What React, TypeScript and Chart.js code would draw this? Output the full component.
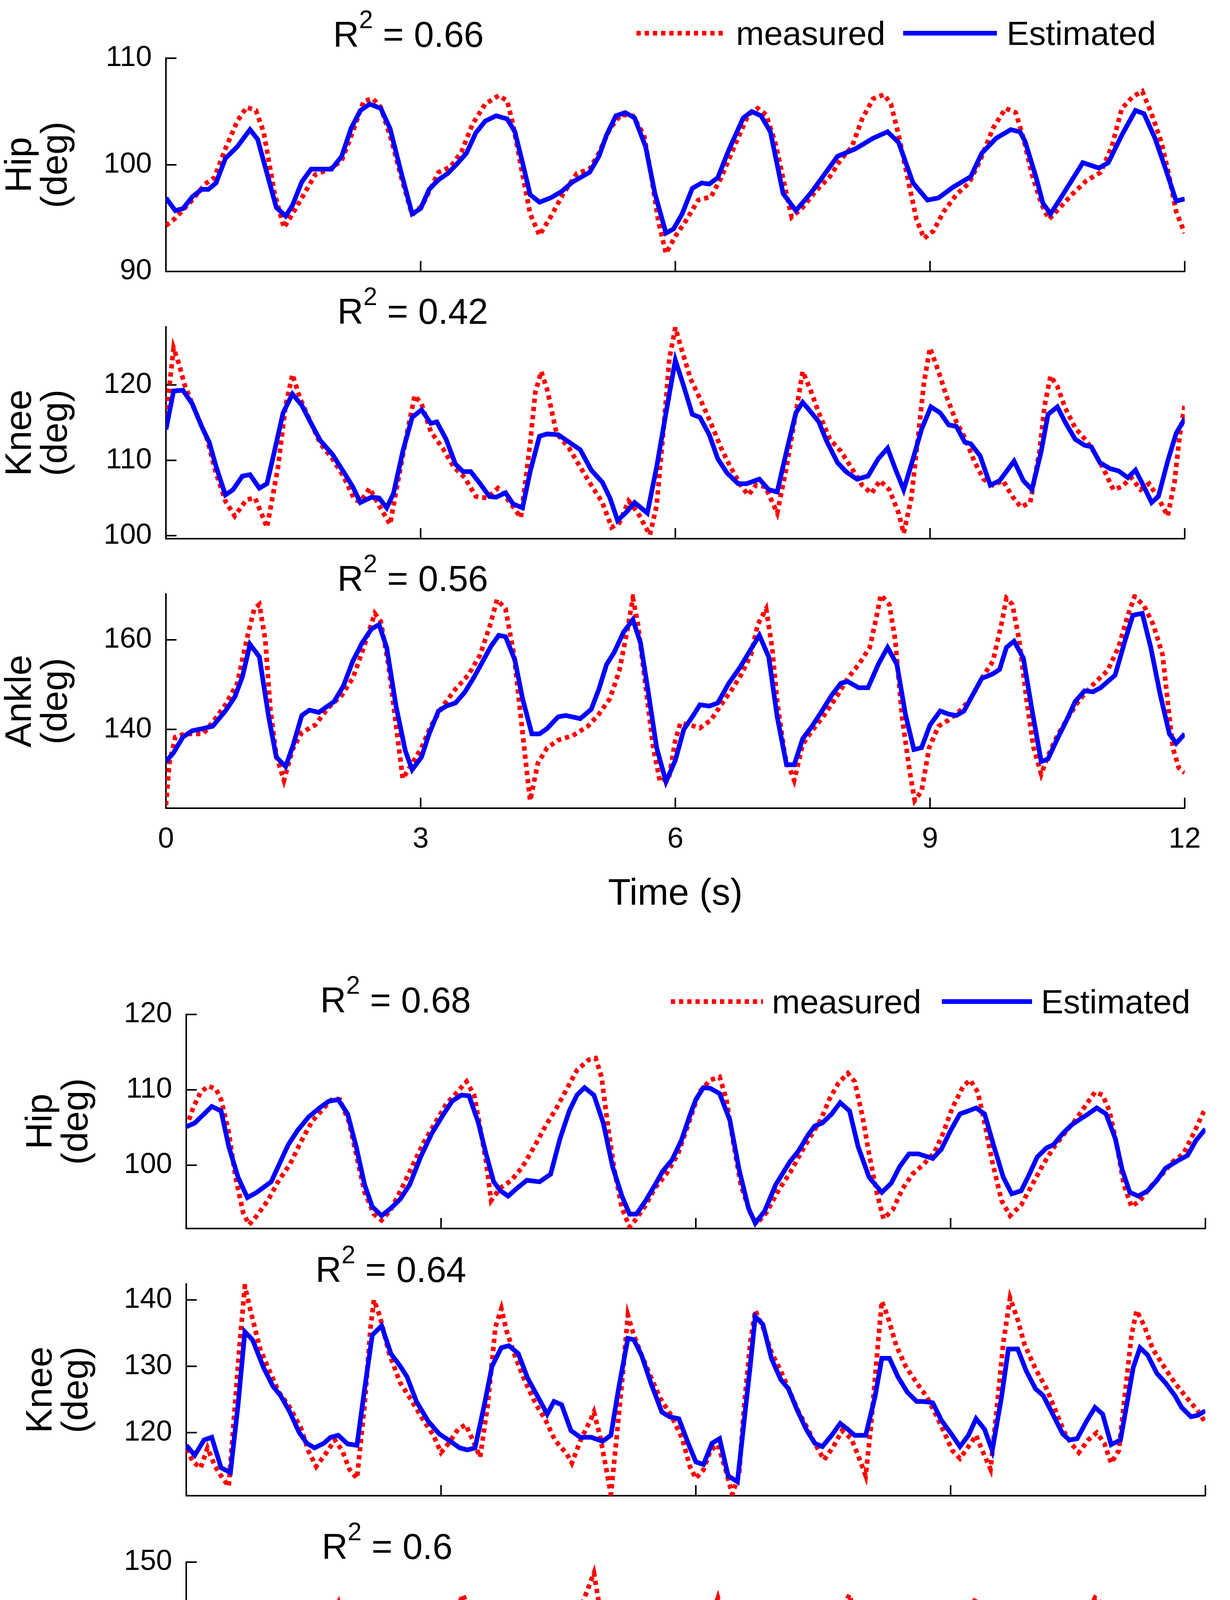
import { useEffect, useRef } from 'react';
import { Chart, registerables } from 'chart.js';

Chart.register(...registerables);

const FONT = "'Liberation Sans', Arial, Helvetica, sans-serif";

// ---- data: [time (s), angle (deg)] ----

// trial 1 (upper figure)
const trial1HipMeasured: [number, number][] = [
  [0, 94.3], [0.11, 95.0], [0.31, 96.7], [0.46, 98.2], [0.57, 98.8], [0.7, 101.5], [0.84, 104.1], [0.95, 105.4], [1.06, 105.1], [1.15, 103.1],
  [1.28, 97.3], [1.39, 94.1], [1.49, 95.4], [1.63, 97.3], [1.76, 99.1], [1.93, 99.6], [2.07, 100.4], [2.2, 103.1], [2.33, 106.0], [2.44, 106.2],
  [2.53, 105.4], [2.66, 102.2], [2.77, 98.9], [2.9, 95.3], [3.02, 96.2], [3.1, 97.5], [3.21, 99.3], [3.35, 99.8], [3.48, 101.2], [3.61, 103.8],
  [3.76, 105.7], [3.92, 106.5], [4.02, 106.0], [4.09, 103.7], [4.2, 99.1], [4.29, 95.4], [4.4, 93.4], [4.53, 95.1], [4.68, 97.3], [4.84, 99.2],
  [4.99, 99.6], [5.1, 101.1], [5.23, 103.4], [5.36, 104.7], [5.5, 104.6], [5.63, 102.8], [5.72, 98.8], [5.8, 94.7], [5.89, 91.7], [6.0, 93.3],
  [6.12, 94.7], [6.27, 96.7], [6.42, 97.0], [6.54, 98.8], [6.71, 102.0], [6.86, 104.7], [6.97, 105.3], [7.07, 104.7], [7.18, 102.0], [7.29, 98.0],
  [7.37, 95.1], [7.5, 96.0], [7.65, 97.5], [7.82, 98.9], [7.95, 100.5], [8.08, 101.7], [8.2, 104.3], [8.33, 106.2], [8.46, 106.6], [8.54, 105.7],
  [8.63, 102.8], [8.76, 97.9], [8.84, 94.9], [8.93, 93.1], [9.04, 93.8], [9.16, 95.6], [9.31, 97.2], [9.46, 98.3], [9.59, 100.4], [9.74, 103.4],
  [9.89, 105.3], [10.01, 104.9], [10.1, 102.5], [10.2, 99.1], [10.31, 96.4], [10.4, 94.9], [10.52, 95.9], [10.67, 97.2], [10.84, 98.5], [11.01, 99.3],
  [11.14, 101.7], [11.26, 105.3], [11.39, 106.4], [11.5, 106.9], [11.6, 105.0], [11.73, 102.0], [11.82, 98.8], [11.9, 95.6], [12.0, 93.6],
];
const trial1HipEstimated: [number, number][] = [
  [0, 96.9], [0.11, 95.7], [0.2, 95.9], [0.31, 97.0], [0.42, 97.7], [0.5, 97.7], [0.59, 98.3], [0.7, 100.6], [0.84, 101.7], [0.99, 103.3],
  [1.08, 102.4], [1.19, 99.2], [1.3, 96.0], [1.41, 95.2], [1.49, 96.2], [1.6, 98.4], [1.71, 99.6], [1.95, 99.6], [2.07, 100.8], [2.18, 103.4],
  [2.29, 105.1], [2.4, 105.7], [2.53, 105.3], [2.64, 103.4], [2.77, 99.3], [2.9, 95.4], [3.0, 95.9], [3.1, 97.7], [3.21, 98.6], [3.32, 99.2],
  [3.43, 100.1], [3.54, 101.1], [3.65, 103.0], [3.76, 104.1], [3.89, 104.6], [4.02, 104.3], [4.11, 103.1], [4.2, 100.2], [4.29, 97.2], [4.4, 96.5],
  [4.53, 96.9], [4.66, 97.5], [4.79, 98.4], [4.99, 99.3], [5.1, 100.8], [5.19, 102.8], [5.3, 104.6], [5.41, 104.9], [5.52, 104.4], [5.65, 101.7],
  [5.76, 97.3], [5.89, 93.6], [5.98, 94.0], [6.08, 95.4], [6.2, 97.8], [6.31, 98.3], [6.4, 98.2], [6.5, 98.8], [6.63, 101.4], [6.8, 104.4],
  [6.9, 105.0], [7.01, 104.6], [7.12, 103.1], [7.27, 97.3], [7.42, 95.7], [7.61, 97.5], [7.91, 100.8], [8.12, 101.5], [8.33, 102.5], [8.5, 103.1],
  [8.63, 102.1], [8.8, 98.3], [8.97, 96.7], [9.1, 96.9], [9.27, 97.9], [9.48, 98.9], [9.61, 101.1], [9.78, 102.5], [9.95, 103.3], [10.06, 103.1],
  [10.12, 102.2], [10.25, 98.8], [10.33, 96.4], [10.42, 95.4], [10.54, 96.9], [10.8, 100.2], [10.99, 99.7], [11.1, 100.2], [11.26, 102.8], [11.42, 105.1],
  [11.52, 104.8], [11.65, 102.5], [11.78, 99.5], [11.9, 96.6], [12.0, 96.8],
];
const trial1KneeMeasured: [number, number][] = [
  [0, 115.7], [0.09, 124.9], [0.15, 122.9], [0.22, 120.0], [0.33, 116.9], [0.48, 113.0], [0.59, 108.3], [0.7, 104.6], [0.81, 102.6], [0.95, 104.8],
  [1.05, 105.0], [1.19, 101.1], [1.32, 109.1], [1.41, 117.3], [1.49, 121.4], [1.58, 118.2], [1.71, 114.9], [1.82, 112.2], [1.96, 110.2], [2.09, 107.9],
  [2.22, 104.8], [2.29, 104.5], [2.4, 106.3], [2.51, 104.0], [2.64, 101.5], [2.73, 107.1], [2.84, 113.6], [2.93, 118.6], [3.01, 117.5], [3.12, 113.8],
  [3.26, 111.6], [3.39, 109.1], [3.52, 107.7], [3.65, 105.2], [3.78, 105.0], [3.91, 106.3], [4.04, 104.6], [4.18, 102.4], [4.29, 112.2], [4.35, 119.0],
  [4.42, 121.8], [4.49, 119.4], [4.6, 113.6], [4.75, 111.6], [4.88, 109.1], [5.01, 106.7], [5.14, 104.4], [5.25, 101.1], [5.34, 101.7], [5.45, 104.6],
  [5.56, 103.0], [5.7, 100.1], [5.78, 104.0], [5.87, 115.3], [5.93, 123.5], [6.0, 127.6], [6.08, 124.5], [6.18, 120.8], [6.29, 118.2], [6.42, 114.9],
  [6.54, 111.6], [6.65, 109.1], [6.78, 106.5], [6.86, 105.4], [6.95, 106.7], [7.06, 106.5], [7.2, 103.0], [7.31, 109.1], [7.42, 116.3], [7.5, 121.8],
  [7.59, 119.4], [7.69, 116.3], [7.82, 112.8], [7.95, 111.2], [8.07, 109.1], [8.2, 106.7], [8.31, 105.6], [8.41, 107.3], [8.52, 106.1], [8.63, 103.0],
  [8.69, 100.3], [8.78, 105.0], [8.86, 113.2], [8.93, 120.4], [9.0, 124.9], [9.1, 121.8], [9.2, 118.3], [9.31, 115.1], [9.41, 113.0], [9.52, 109.9],
  [9.63, 107.5], [9.74, 106.7], [9.86, 107.3], [9.97, 105.2], [10.07, 103.8], [10.18, 104.4], [10.29, 111.2], [10.35, 117.3], [10.42, 121.2], [10.5, 119.8],
  [10.59, 117.0], [10.71, 114.3], [10.84, 112.6], [10.95, 110.8], [11.05, 108.7], [11.16, 106.1], [11.26, 106.5], [11.37, 107.7], [11.48, 106.1], [11.58, 106.9],
  [11.69, 105.0], [11.8, 102.6], [11.88, 107.1], [11.94, 113.2], [12.0, 117.3],
];
const trial1KneeEstimated: [number, number][] = [
  [0, 114.1], [0.09, 119.2], [0.2, 119.3], [0.31, 117.5], [0.42, 114.5], [0.51, 112.4], [0.59, 109.2], [0.7, 105.4], [0.79, 106.1], [0.9, 107.9],
  [0.99, 108.1], [1.1, 106.3], [1.19, 106.9], [1.27, 110.8], [1.38, 116.3], [1.49, 118.8], [1.6, 117.3], [1.71, 114.9], [1.82, 112.6], [1.96, 110.8],
  [2.09, 108.5], [2.2, 106.5], [2.29, 104.4], [2.42, 105.1], [2.51, 105.0], [2.6, 103.7], [2.68, 105.6], [2.79, 111.2], [2.9, 115.7], [3.01, 116.7],
  [3.12, 114.9], [3.19, 115.1], [3.3, 112.8], [3.41, 109.5], [3.5, 108.5], [3.59, 108.5], [3.7, 106.9], [3.81, 105.2], [3.89, 105.1], [4.0, 105.7],
  [4.09, 104.2], [4.2, 103.7], [4.29, 108.5], [4.4, 113.2], [4.49, 113.5], [4.62, 113.4], [4.75, 112.4], [4.88, 111.4], [5.01, 108.7], [5.14, 107.1],
  [5.23, 105.0], [5.32, 102.0], [5.43, 103.2], [5.52, 104.4], [5.67, 103.0], [5.78, 109.1], [5.89, 116.3], [6.0, 123.3], [6.1, 119.8], [6.2, 116.1],
  [6.29, 115.7], [6.4, 113.4], [6.5, 110.2], [6.61, 108.3], [6.74, 106.9], [6.84, 106.9], [6.99, 107.5], [7.1, 106.1], [7.2, 105.8], [7.31, 111.2],
  [7.42, 116.3], [7.5, 117.7], [7.59, 116.5], [7.69, 115.1], [7.78, 112.6], [7.91, 109.7], [8.01, 108.5], [8.14, 107.5], [8.27, 107.9], [8.39, 110.2],
  [8.5, 111.6], [8.59, 108.9], [8.69, 106.1], [8.8, 110.2], [8.9, 114.1], [9.01, 117.1], [9.12, 116.3], [9.22, 114.7], [9.31, 114.5], [9.41, 112.4],
  [9.48, 112.2], [9.59, 110.6], [9.71, 106.7], [9.82, 107.3], [9.99, 109.9], [10.1, 107.3], [10.2, 106.1], [10.31, 111.2], [10.39, 116.1], [10.5, 117.1],
  [10.6, 114.9], [10.71, 112.8], [10.82, 112.0], [10.9, 111.8], [11.0, 109.7], [11.12, 108.9], [11.22, 108.6], [11.33, 107.7], [11.42, 108.7], [11.52, 106.5],
  [11.61, 104.4], [11.69, 105.2], [11.8, 109.9], [11.9, 113.6], [12.0, 115.5],
];
const trial1AnkleMeasured: [number, number][] = [
  [0, 123.1], [0.04, 132.4], [0.11, 138.3], [0.22, 139.0], [0.44, 139.0], [0.57, 142.1], [0.7, 145.5], [0.84, 150.3], [0.95, 160.0], [1.04, 166.9],
  [1.1, 167.9], [1.17, 160.0], [1.23, 144.5], [1.3, 134.1], [1.39, 128.6], [1.49, 135.5], [1.6, 139.3], [1.76, 141.0], [1.91, 144.8], [2.07, 147.6],
  [2.2, 151.4], [2.33, 158.3], [2.46, 165.9], [2.53, 164.1], [2.62, 154.5], [2.71, 141.0], [2.79, 129.0], [2.9, 132.4], [3.01, 135.9], [3.12, 140.7],
  [3.26, 145.2], [3.41, 149.0], [3.56, 152.1], [3.7, 156.6], [3.82, 163.4], [3.9, 169.0], [4.0, 166.9], [4.1, 156.6], [4.18, 142.8], [4.25, 130.7],
  [4.29, 124.1], [4.38, 132.4], [4.49, 135.9], [4.62, 137.6], [4.79, 138.6], [4.97, 140.7], [5.1, 143.4], [5.23, 146.9], [5.34, 153.1], [5.43, 161.7],
  [5.5, 169.3], [5.56, 163.4], [5.65, 149.7], [5.74, 135.9], [5.82, 128.3], [5.93, 129.7], [6.0, 137.6], [6.06, 141.4], [6.17, 141.0], [6.29, 140.3],
  [6.42, 142.1], [6.54, 145.5], [6.67, 149.0], [6.78, 152.4], [6.89, 156.6], [6.97, 163.4], [7.07, 166.9], [7.14, 158.3], [7.2, 146.2], [7.29, 134.1],
  [7.4, 128.6], [7.5, 136.6], [7.61, 139.7], [7.74, 142.8], [7.91, 147.6], [8.03, 151.4], [8.16, 154.5], [8.29, 158.3], [8.37, 165.2], [8.42, 170.0],
  [8.52, 167.9], [8.59, 160.0], [8.67, 142.8], [8.76, 130.7], [8.82, 124.1], [8.9, 126.2], [8.99, 135.9], [9.1, 140.7], [9.22, 142.1], [9.35, 144.1],
  [9.48, 146.9], [9.61, 151.4], [9.74, 155.2], [9.84, 163.4], [9.9, 169.3], [9.97, 167.9], [10.05, 160.0], [10.14, 146.2], [10.22, 135.9], [10.31, 130.0],
  [10.39, 134.1], [10.5, 138.6], [10.63, 142.8], [10.76, 146.6], [10.92, 150.0], [11.09, 153.1], [11.22, 158.3], [11.33, 165.5], [11.41, 169.7], [11.52, 167.6],
  [11.63, 163.4], [11.74, 156.6], [11.8, 146.2], [11.86, 135.9], [11.93, 131.4], [12.0, 130.3],
];
const trial1AnkleEstimated: [number, number][] = [
  [0, 132.8], [0.09, 134.8], [0.2, 138.3], [0.31, 139.7], [0.44, 140.2], [0.55, 140.7], [0.7, 144.1], [0.81, 147.2], [0.9, 151.7], [0.99, 159.0],
  [1.1, 156.2], [1.21, 142.8], [1.3, 133.8], [1.41, 131.7], [1.5, 136.6], [1.6, 143.1], [1.69, 144.3], [1.8, 143.8], [1.98, 146.2], [2.09, 149.7],
  [2.2, 155.2], [2.31, 159.3], [2.42, 162.4], [2.51, 163.4], [2.6, 158.3], [2.71, 145.2], [2.82, 135.2], [2.9, 131.0], [3.01, 133.8], [3.1, 139.0],
  [3.21, 144.1], [3.3, 145.2], [3.41, 145.9], [3.52, 148.3], [3.63, 151.7], [3.74, 155.5], [3.83, 158.6], [3.92, 161.0], [4.0, 160.7], [4.11, 155.5],
  [4.2, 146.9], [4.31, 139.0], [4.4, 139.0], [4.49, 140.2], [4.62, 142.8], [4.71, 143.1], [4.88, 142.4], [5.01, 144.5], [5.1, 149.0], [5.19, 154.5],
  [5.28, 157.2], [5.39, 161.7], [5.5, 164.5], [5.59, 159.3], [5.67, 149.7], [5.78, 135.9], [5.89, 128.3], [6.0, 133.1], [6.1, 140.0], [6.2, 142.8],
  [6.29, 145.5], [6.4, 145.2], [6.5, 145.9], [6.63, 150.3], [6.76, 153.8], [6.89, 157.9], [6.99, 161.0], [7.1, 156.2], [7.2, 142.8], [7.31, 132.1],
  [7.4, 132.1], [7.5, 137.9], [7.61, 140.7], [7.74, 144.5], [7.84, 147.6], [7.95, 150.3], [8.03, 150.7], [8.16, 149.3], [8.27, 149.3], [8.39, 154.5],
  [8.5, 158.3], [8.61, 154.5], [8.71, 143.4], [8.81, 135.5], [8.9, 135.9], [9.0, 141.0], [9.12, 144.1], [9.22, 143.4], [9.31, 143.1], [9.4, 144.1],
  [9.5, 147.6], [9.61, 151.4], [9.74, 152.4], [9.82, 153.4], [9.9, 158.3], [9.99, 159.7], [10.1, 155.9], [10.2, 144.5], [10.31, 132.8], [10.39, 133.4],
  [10.5, 137.9], [10.6, 141.7], [10.71, 146.2], [10.82, 148.6], [10.92, 148.4], [11.01, 149.3], [11.18, 152.1], [11.3, 160.0], [11.39, 165.5], [11.5, 165.9],
  [11.6, 158.3], [11.71, 147.9], [11.82, 139.0], [11.9, 136.9], [12.0, 139.0],
];

// trial 2 (lower figure)
const trial2HipMeasured: [number, number][] = [
  [0, 105.0], [0.08, 107.6], [0.17, 109.7], [0.26, 110.5], [0.35, 110.1], [0.41, 108.7], [0.5, 104.4], [0.58, 98.4], [0.67, 93.7], [0.74, 92.1],
  [0.83, 93.3], [0.96, 95.3], [1.09, 98.0], [1.22, 100.1], [1.35, 103.1], [1.48, 105.8], [1.62, 107.6], [1.73, 108.9], [1.81, 108.7], [1.92, 105.6],
  [2.0, 101.5], [2.1, 96.4], [2.21, 93.5], [2.3, 92.7], [2.41, 94.1], [2.54, 97.0], [2.67, 100.1], [2.8, 103.1], [2.93, 105.6], [3.06, 108.1],
  [3.19, 109.7], [3.3, 111.1], [3.39, 109.3], [3.45, 105.6], [3.53, 100.5], [3.59, 95.3], [3.7, 97.0], [3.83, 98.0], [3.96, 99.8], [4.1, 102.5],
  [4.23, 105.2], [4.36, 107.6], [4.47, 109.9], [4.6, 112.6], [4.74, 114.0], [4.82, 114.2], [4.89, 111.7], [4.96, 105.6], [5.04, 99.4], [5.13, 94.3],
  [5.22, 91.8], [5.3, 92.9], [5.41, 94.7], [5.52, 97.0], [5.65, 98.8], [5.79, 101.5], [5.91, 105.4], [6.04, 109.7], [6.17, 111.3], [6.28, 111.7],
  [6.36, 108.7], [6.45, 102.5], [6.53, 97.4], [6.64, 93.7], [6.72, 92.3], [6.83, 93.7], [6.98, 96.8], [7.11, 99.0], [7.23, 101.5], [7.36, 104.0],
  [7.47, 106.0], [7.57, 108.7], [7.68, 110.9], [7.79, 112.2], [7.87, 111.1], [7.96, 106.6], [8.04, 101.5], [8.13, 96.4], [8.21, 92.9], [8.32, 94.1],
  [8.43, 96.8], [8.55, 98.8], [8.68, 100.1], [8.81, 101.7], [8.91, 104.2], [9.02, 107.6], [9.15, 110.5], [9.23, 111.3], [9.32, 109.7], [9.4, 105.6],
  [9.49, 100.5], [9.6, 95.3], [9.7, 93.3], [9.83, 94.7], [9.96, 97.4], [10.09, 100.1], [10.21, 102.3], [10.34, 104.2], [10.47, 106.0], [10.6, 108.1],
  [10.7, 109.7], [10.79, 109.3], [10.87, 107.2], [10.96, 102.5], [11.04, 97.4], [11.13, 94.5], [11.23, 95.3], [11.36, 97.2], [11.49, 98.8], [11.62, 100.5],
  [11.74, 101.5], [11.87, 104.4], [12.0, 107.6],
];
const trial2HipEstimated: [number, number][] = [
  [0, 105.1], [0.1, 105.6], [0.21, 106.8], [0.3, 107.8], [0.41, 107.2], [0.5, 102.5], [0.61, 98.4], [0.72, 95.7], [0.83, 96.4], [1.0, 97.8],
  [1.2, 102.7], [1.31, 104.6], [1.44, 106.4], [1.57, 107.6], [1.68, 108.5], [1.79, 108.7], [1.9, 106.8], [2.0, 102.5], [2.1, 97.4], [2.19, 94.5],
  [2.3, 93.3], [2.41, 94.3], [2.52, 95.5], [2.63, 97.4], [2.76, 101.1], [2.89, 104.2], [3.02, 106.6], [3.13, 108.5], [3.24, 109.3], [3.33, 109.2],
  [3.44, 105.6], [3.53, 101.5], [3.62, 97.8], [3.7, 96.6], [3.79, 95.9], [3.9, 97.0], [4.01, 98.0], [4.16, 97.8], [4.29, 98.8], [4.4, 103.5],
  [4.51, 107.2], [4.6, 109.3], [4.69, 110.3], [4.8, 109.3], [4.91, 105.6], [5.02, 99.8], [5.13, 95.9], [5.22, 93.5], [5.3, 93.5], [5.41, 95.3],
  [5.52, 97.4], [5.61, 99.2], [5.72, 100.7], [5.83, 103.3], [5.93, 106.6], [6.0, 108.7], [6.09, 110.3], [6.17, 110.2], [6.28, 109.5], [6.4, 106.0],
  [6.51, 99.4], [6.62, 94.3], [6.7, 92.3], [6.81, 93.9], [6.94, 97.4], [7.11, 100.5], [7.21, 101.9], [7.32, 104.0], [7.4, 105.2], [7.49, 105.6],
  [7.6, 106.8], [7.7, 108.3], [7.81, 107.2], [7.91, 102.5], [8.04, 98.4], [8.19, 96.4], [8.3, 97.6], [8.4, 99.8], [8.51, 101.5], [8.62, 101.5],
  [8.79, 100.9], [8.89, 102.1], [9.0, 104.6], [9.11, 106.8], [9.21, 107.2], [9.3, 107.6], [9.4, 106.8], [9.51, 102.5], [9.62, 98.4], [9.72, 96.2],
  [9.83, 96.6], [9.91, 98.4], [10.02, 101.1], [10.13, 102.3], [10.21, 102.7], [10.32, 104.2], [10.43, 105.4], [10.51, 106.0], [10.62, 106.8], [10.72, 107.6],
  [10.83, 106.8], [10.94, 103.5], [11.02, 99.4], [11.11, 96.4], [11.21, 95.9], [11.32, 96.6], [11.43, 98.0], [11.53, 99.6], [11.66, 100.5], [11.79, 101.3],
  [11.89, 103.3], [12.0, 104.8],
];
const trial2KneeMeasured: [number, number][] = [
  [0, 117.5], [0.08, 115.6], [0.17, 114.7], [0.25, 117.7], [0.34, 114.9], [0.41, 113.5], [0.5, 111.9], [0.56, 121.9], [0.63, 133.5], [0.69, 142.1],
  [0.76, 138.2], [0.87, 132.6], [0.98, 129.3], [1.09, 126.1], [1.22, 123.8], [1.35, 120.7], [1.44, 117.2], [1.53, 114.9], [1.64, 116.8], [1.75, 118.9],
  [1.84, 117.2], [1.92, 114.5], [2.01, 113.1], [2.1, 124.2], [2.17, 135.9], [2.21, 140.0], [2.28, 137.5], [2.39, 131.9], [2.52, 127.5], [2.65, 124.9],
  [2.78, 122.1], [2.91, 119.6], [3.0, 117.0], [3.09, 118.4], [3.2, 120.5], [3.29, 121.2], [3.38, 118.7], [3.46, 116.3], [3.55, 124.2], [3.64, 135.9],
  [3.71, 138.7], [3.77, 135.4], [3.88, 131.2], [3.99, 127.7], [4.12, 124.2], [4.23, 121.9], [4.34, 118.9], [4.48, 116.8], [4.54, 115.4], [4.65, 119.1],
  [4.76, 121.9], [4.8, 123.1], [4.87, 119.6], [4.94, 114.9], [5.0, 110.7], [5.07, 119.6], [5.14, 128.9], [5.2, 137.7], [5.27, 134.7], [5.36, 131.7],
  [5.47, 128.4], [5.58, 125.2], [5.71, 122.6], [5.84, 119.1], [5.93, 114.9], [6.0, 113.1], [6.09, 114.4], [6.17, 117.3], [6.26, 118.2], [6.34, 114.9],
  [6.43, 110.7], [6.51, 113.8], [6.57, 124.2], [6.64, 133.5], [6.7, 138.4], [6.79, 135.9], [6.89, 132.1], [7.0, 129.3], [7.11, 126.1], [7.21, 123.1],
  [7.32, 120.5], [7.4, 118.4], [7.51, 115.9], [7.62, 117.9], [7.72, 120.3], [7.83, 119.1], [7.91, 116.6], [8.0, 113.5], [8.06, 120.7], [8.13, 131.2],
  [8.19, 139.8], [8.26, 137.5], [8.36, 133.1], [8.47, 130.0], [8.6, 127.5], [8.72, 125.4], [8.83, 122.6], [8.94, 119.6], [9.02, 117.3], [9.11, 116.1],
  [9.21, 117.9], [9.3, 119.6], [9.39, 116.8], [9.47, 114.5], [9.53, 121.9], [9.62, 133.5], [9.7, 140.3], [9.79, 137.0], [9.87, 133.3], [10.0, 129.6],
  [10.13, 126.6], [10.23, 123.5], [10.34, 120.0], [10.43, 118.2], [10.51, 117.0], [10.62, 118.9], [10.72, 120.0], [10.81, 118.4], [10.89, 115.4], [10.98, 117.3],
  [11.06, 126.6], [11.13, 134.7], [11.19, 138.4], [11.28, 136.1], [11.38, 132.6], [11.51, 130.0], [11.64, 127.5], [11.74, 125.9], [11.85, 124.2], [11.94, 122.8],
  [12.0, 121.4],
];
const trial2KneeEstimated: [number, number][] = [
  [0, 118.1], [0.1, 116.6], [0.21, 118.9], [0.3, 119.3], [0.41, 114.7], [0.52, 114.0], [0.61, 124.2], [0.69, 135.2], [0.78, 134.0], [0.91, 129.8],
  [1.02, 127.0], [1.11, 125.6], [1.22, 123.1], [1.33, 120.0], [1.42, 118.4], [1.51, 117.7], [1.62, 118.4], [1.7, 119.3], [1.79, 119.6], [1.9, 118.3],
  [2.01, 118.1], [2.1, 126.6], [2.19, 134.7], [2.3, 136.1], [2.41, 131.9], [2.52, 130.0], [2.6, 128.4], [2.71, 124.7], [2.85, 121.7], [2.98, 119.8],
  [3.11, 118.7], [3.22, 117.7], [3.31, 117.4], [3.4, 117.7], [3.51, 124.2], [3.6, 130.0], [3.71, 132.8], [3.8, 133.1], [3.91, 131.9], [4.02, 128.2],
  [4.14, 125.4], [4.25, 122.8], [4.33, 124.7], [4.42, 124.2], [4.53, 120.3], [4.64, 119.3], [4.77, 119.3], [4.9, 118.7], [5.0, 119.6], [5.09, 126.6],
  [5.2, 134.2], [5.27, 134.0], [5.36, 131.7], [5.47, 127.5], [5.6, 123.1], [5.69, 122.4], [5.8, 122.1], [5.91, 118.4], [6.0, 115.6], [6.09, 115.2],
  [6.19, 118.4], [6.28, 119.1], [6.38, 113.5], [6.49, 112.6], [6.57, 121.9], [6.64, 130.0], [6.7, 137.5], [6.79, 136.3], [6.89, 131.2], [7.0, 128.0],
  [7.09, 126.6], [7.19, 123.5], [7.3, 120.5], [7.4, 118.4], [7.49, 117.9], [7.6, 119.6], [7.7, 121.4], [7.79, 120.5], [7.87, 119.6], [8.0, 119.6],
  [8.11, 125.4], [8.19, 131.2], [8.28, 131.2], [8.38, 128.4], [8.49, 126.1], [8.6, 124.7], [8.68, 124.7], [8.79, 124.5], [8.89, 121.9], [9.02, 119.6],
  [9.11, 117.9], [9.21, 119.6], [9.3, 122.1], [9.4, 120.5], [9.49, 117.3], [9.6, 125.4], [9.68, 132.6], [9.79, 132.6], [9.89, 129.3], [10.0, 126.6],
  [10.09, 125.6], [10.21, 122.6], [10.32, 119.8], [10.4, 118.9], [10.49, 119.1], [10.6, 121.7], [10.7, 123.8], [10.79, 122.8], [10.89, 118.2], [11.0, 118.9],
  [11.09, 125.4], [11.15, 129.8], [11.23, 132.8], [11.32, 131.7], [11.43, 128.9], [11.53, 127.5], [11.64, 125.6], [11.72, 123.8], [11.83, 122.4], [11.91, 122.6],
  [12.0, 123.3],
];
const trial2AnkleMeasured: [number, number][] = [
  [0, 125.3], [0.1, 126.9], [0.19, 130.1], [0.3, 136.9], [0.36, 136.1], [0.43, 120.1], [0.5, 110.2], [0.58, 99.0], [0.65, 102.2], [0.72, 110.2],
  [0.83, 114.1], [0.96, 114.9], [1.09, 115.7], [1.22, 118.1], [1.33, 119.7], [1.44, 122.9], [1.55, 126.1], [1.66, 130.1], [1.75, 138.0], [1.79, 139.6],
  [1.86, 132.1], [1.92, 120.1], [2.01, 108.2], [2.1, 98.2], [2.17, 106.2], [2.23, 113.3], [2.34, 116.1], [2.5, 118.5], [2.65, 120.1], [2.8, 124.1],
  [2.93, 128.1], [3.06, 131.7], [3.17, 137.3], [3.26, 141.6], [3.33, 137.3], [3.39, 120.1], [3.46, 108.2], [3.55, 101.4], [3.64, 107.8], [3.75, 112.2],
  [3.88, 116.1], [4.03, 118.9], [4.18, 120.9], [4.36, 124.9], [4.49, 130.1], [4.6, 136.1], [4.71, 142.0], [4.8, 147.2], [4.87, 138.0], [4.93, 122.1],
  [5.0, 110.2], [5.06, 102.2], [5.11, 95.4], [5.17, 106.2], [5.28, 111.8], [5.41, 114.1], [5.54, 114.9], [5.68, 118.9], [5.83, 124.1], [5.99, 128.1],
  [6.11, 131.7], [6.19, 136.1], [6.26, 140.8], [6.32, 136.1], [6.38, 122.1], [6.45, 110.2], [6.53, 102.2], [6.6, 97.4], [6.68, 106.2], [6.77, 112.2],
  [6.89, 116.9], [7.02, 118.9], [7.15, 121.3], [7.3, 124.5], [7.43, 126.1], [7.55, 129.3], [7.66, 134.1], [7.74, 138.8], [7.81, 141.6], [7.87, 136.1],
  [7.94, 122.1], [8.02, 112.2], [8.09, 101.0], [8.15, 108.2], [8.23, 114.1], [8.36, 117.3], [8.51, 119.3], [8.66, 121.3], [8.81, 123.3], [8.94, 126.1],
  [9.04, 128.9], [9.15, 133.3], [9.23, 138.0], [9.3, 140.8], [9.36, 132.1], [9.45, 118.1], [9.53, 106.2], [9.6, 98.6], [9.68, 108.2], [9.79, 114.1],
  [9.91, 118.1], [10.06, 122.1], [10.21, 124.9], [10.34, 127.7], [10.47, 131.3], [10.6, 136.5], [10.7, 140.8], [10.79, 139.2], [10.85, 126.1], [10.94, 112.2],
  [11.02, 102.2], [11.11, 102.2], [11.19, 108.2], [11.32, 115.0], [11.45, 119.7], [11.57, 122.9], [11.7, 125.3], [11.83, 126.9], [12.0, 129.3],
];
const trial2AnkleEstimated: [number, number][] = [
  [0, 124.9], [0.1, 120.5], [0.21, 126.1], [0.3, 131.7], [0.41, 126.9], [0.5, 116.1], [0.58, 106.6], [0.69, 112.5], [0.8, 116.5], [0.89, 116.1],
  [0.98, 118.1], [1.09, 121.3], [1.2, 123.7], [1.29, 125.7], [1.4, 125.3], [1.48, 126.9], [1.57, 127.7], [1.68, 130.1], [1.79, 132.1], [1.9, 124.1],
  [2.01, 114.1], [2.1, 105.8], [2.19, 106.2], [2.3, 110.9], [2.41, 112.2], [2.52, 114.1], [2.6, 116.5], [2.71, 117.7], [2.8, 118.9], [2.89, 123.3],
  [3.02, 126.1], [3.11, 127.7], [3.22, 130.9], [3.31, 130.5], [3.42, 120.1], [3.5, 110.9], [3.61, 109.0], [3.73, 109.8], [3.81, 112.2], [3.9, 115.7],
  [3.99, 117.3], [4.1, 112.9], [4.21, 109.0], [4.29, 114.1], [4.4, 120.1], [4.51, 126.1], [4.6, 130.1], [4.69, 134.1], [4.8, 131.3], [4.89, 124.1],
  [4.98, 114.1], [5.09, 105.0], [5.17, 107.4], [5.28, 110.9], [5.39, 118.1], [5.48, 119.7], [5.57, 118.1], [5.68, 116.9], [5.79, 121.3], [5.88, 126.1],
  [5.99, 129.3], [6.1, 131.3], [6.2, 134.7], [6.3, 135.0], [6.38, 118.1], [6.49, 104.2], [6.6, 97.4], [6.7, 104.2], [6.81, 112.9], [6.91, 117.3],
  [7.02, 121.3], [7.15, 123.7], [7.28, 125.7], [7.36, 126.5], [7.49, 125.3], [7.6, 126.1], [7.68, 129.3], [7.79, 131.7], [7.89, 123.7], [8.0, 114.1],
  [8.11, 108.2], [8.21, 113.3], [8.32, 117.7], [8.4, 118.9], [8.51, 122.5], [8.62, 122.5], [8.7, 120.5], [8.81, 121.3], [8.91, 122.1], [9.02, 124.5],
  [9.11, 124.9], [9.21, 124.5], [9.3, 131.3], [9.4, 126.5], [9.51, 116.1], [9.62, 105.4], [9.72, 112.2], [9.83, 116.9], [9.94, 119.7], [10.04, 122.5],
  [10.13, 124.1], [10.3, 124.1], [10.43, 125.3], [10.57, 126.5], [10.68, 131.3], [10.79, 131.3], [10.89, 122.1], [11.0, 109.0], [11.11, 104.6], [11.21, 110.2],
  [11.32, 115.7], [11.4, 116.5], [11.51, 122.1], [11.6, 122.5], [11.7, 120.5], [11.81, 118.9], [11.91, 121.7], [12.0, 124.5],
];

const timeTicks = [0, 3, 6, 9, 12];
const trial1HipTicks = [90, 100, 110];
const trial1KneeTicks = [100, 110, 120];
const trial1AnkleTicks = [140, 160];
const trial2HipTicks = [100, 110, 120];
const trial2KneeTicks = [120, 130, 140];
const trial2AnkleTicks = [100, 150];

const trial1R2 = ['0.66', '0.42', '0.56'];
const trial2R2 = ['0.68', '0.64', '0.6'];
const jointNames = ['Hip', 'Knee', 'Ankle'];

// ---- layout (page pixels) ----
const PAGE_W = 3150;
const PAGE_H = 4839;
const Y_AXIS_W = 200;
const HEAD = 70;
const TICK_LEN = 27;
const TICK_FONT = 74;
const LABEL_FONT = 95;
const TITLE_FONT = 92;
const LEGEND_FONT = 86;
const LINE_W = 12;

type PanelCfg = {
  measured: [number, number][];
  estimated: [number, number][];
  yMin: number;
  yMax: number;
  yTicks: number[];
  left: number;
  right: number;
  top: number;
  bottom: number;
  xLabels: boolean;
  xPad: number;
};

const FIGURES = [
  {
    left: 425, right: 3034, labelX: 92, timeY: 2283, xPad: 36,
    legend: { y: 85, redL: 1630, redR: 1861, measuredL: 1885, blueL: 2313, blueR: 2553, estimatedL: 2578 },
    titleLeft: [853, 864, 864], titleY: [88, 797, 1481],
    rows: [
      { top: 149, bottom: 695, yMin: 90, yMax: 110, ticks: trial1HipTicks, m: trial1HipMeasured, e: trial1HipEstimated },
      { top: 837, bottom: 1379, yMin: 99.6, yMax: 127.7, ticks: trial1KneeTicks, m: trial1KneeMeasured, e: trial1KneeEstimated },
      { top: 1521, bottom: 2069, yMin: 122.4, yMax: 170.2, ticks: trial1AnkleTicks, m: trial1AnkleMeasured, e: trial1AnkleEstimated },
    ],
    r2: trial1R2,
  },
  {
    left: 477, right: 3087, labelX: 145, timeY: 4753, xPad: 24,
    legend: { y: 2564, redL: 1718, redR: 1954, measuredL: 1977, blueL: 2412, blueR: 2643, estimatedL: 2666 },
    titleLeft: [820, 808, 824], titleY: [2560, 3250, 3959],
    rows: [
      { top: 2597, bottom: 3145, yMin: 91.6, yMax: 120, ticks: trial2HipTicks, m: trial2HipMeasured, e: trial2HipEstimated },
      { top: 3287, bottom: 3829, yMin: 110.5, yMax: 142.4, ticks: trial2KneeTicks, m: trial2KneeMeasured, e: trial2KneeEstimated },
      { top: 3999, bottom: 4549, yMin: 94.6, yMax: 150, ticks: trial2AnkleTicks, m: trial2AnkleMeasured, e: trial2AnkleEstimated },
    ],
    r2: trial2R2,
  },
];

// MATLAB style tick marks pointing into the axes
const inwardTicks = {
  id: 'inwardTicks',
  beforeDatasetsDraw(chart: any) {
    const { ctx, chartArea } = chart;
    const xs = chart.scales.x;
    const ys = chart.scales.y;
    ctx.save();
    ctx.strokeStyle = '#000';
    ctx.lineWidth = 4;
    ctx.beginPath();
    xs.ticks.forEach((t: any) => {
      const px = xs.getPixelForValue(t.value);
      ctx.moveTo(px, chartArea.bottom);
      ctx.lineTo(px, chartArea.bottom - TICK_LEN);
    });
    ys.ticks.forEach((t: any) => {
      const py = ys.getPixelForValue(t.value);
      ctx.moveTo(chartArea.left, py);
      ctx.lineTo(chartArea.left + TICK_LEN, py);
    });
    ctx.stroke();
    ctx.restore();
  },
};

function Panel({ cfg }: { cfg: PanelCfg }) {
  const ref = useRef<HTMLCanvasElement>(null);
  const xAxisH = cfg.xLabels ? 150 : 30;
  const canvasTop = cfg.top - HEAD;
  const canvasH = HEAD + (cfg.bottom - cfg.top) + xAxisH;

  useEffect(() => {
    if (!ref.current) return;
    const tickFont = { family: FONT, size: TICK_FONT };
    const chart = new Chart(ref.current, {
      type: 'line',
      data: {
        datasets: [
          {
            label: 'measured',
            data: cfg.measured.map(([x, y]) => ({ x, y })),
            borderColor: '#ff0000',
            borderWidth: LINE_W,
            borderDash: [11, 10],
            pointRadius: 0,
            fill: false,
            tension: 0,
            order: 2,
          },
          {
            label: 'Estimated',
            data: cfg.estimated.map(([x, y]) => ({ x, y })),
            borderColor: '#0000ff',
            borderWidth: LINE_W,
            pointRadius: 0,
            fill: false,
            tension: 0,
            order: 1,
          },
        ],
      },
      options: {
        responsive: false,
        animation: false,
        events: [],
        layout: {
          padding: { left: cfg.left - Y_AXIS_W, right: PAGE_W - cfg.right, top: HEAD, bottom: 0 },
        },
        plugins: { legend: { display: false }, tooltip: { enabled: false } },
        scales: {
          x: {
            type: 'linear',
            min: 0,
            max: 12,
            afterBuildTicks: (s: any) => { s.ticks = timeTicks.map((v) => ({ value: v })); },
            afterFit: (s: any) => {
              s.height = xAxisH;
              s.paddingLeft = 0;
              s.paddingRight = 0;
            },
            grid: { display: false, drawTicks: false },
            border: { display: true, color: '#000', width: 4 },
            ticks: { display: cfg.xLabels, font: tickFont, color: '#000', padding: cfg.xPad, maxRotation: 0, autoSkip: false },
          },
          y: {
            type: 'linear',
            min: cfg.yMin,
            max: cfg.yMax,
            afterBuildTicks: (s: any) => { s.ticks = cfg.yTicks.map((v) => ({ value: v })); },
            afterFit: (s: any) => {
              s.width = Y_AXIS_W;
              s.paddingTop = 0;
              s.paddingBottom = 0;
            },
            grid: { display: false, drawTicks: false },
            border: { display: true, color: '#000', width: 4 },
            ticks: { font: tickFont, color: '#000', padding: 36, autoSkip: false },
          },
        },
      },
      plugins: [inwardTicks],
    });
    return () => chart.destroy();
  }, []);

  return (
    <canvas
      ref={ref}
      width={PAGE_W}
      height={canvasH}
      style={{ position: 'absolute', left: 0, top: canvasTop, width: PAGE_W, height: canvasH }}
    />
  );
}

const textBase: React.CSSProperties = {
  position: 'absolute',
  fontFamily: FONT,
  color: '#000',
  whiteSpace: 'nowrap',
};

function R2Title({ left, cy, value }: { left: number; cy: number; value: string }) {
  return (
    <div style={{ ...textBase, left, top: cy - TITLE_FONT / 2, fontSize: TITLE_FONT, lineHeight: `${TITLE_FONT}px` }}>
      R<span style={{ fontSize: 64, position: 'relative', top: -48 }}>2</span> = {value}
    </div>
  );
}

function YLabel({ cx, cy, name }: { cx: number; cy: number; name: string }) {
  return (
    <div
      style={{
        ...textBase,
        left: cx - 300,
        top: cy - 92,
        width: 600,
        height: 184,
        textAlign: 'center',
        fontSize: LABEL_FONT,
        lineHeight: '92px',
        transform: 'rotate(-90deg)',
      }}
    >
      {name}
      <br />
      (deg)
    </div>
  );
}

function Legend({ l }: { l: (typeof FIGURES)[number]['legend'] }) {
  const lineH = LINE_W;
  return (
    <>
      <div
        style={{
          position: 'absolute',
          left: l.redL,
          top: l.y - lineH / 2,
          width: l.redR - l.redL,
          height: lineH,
          background: 'repeating-linear-gradient(to right, #ff0000 0px, #ff0000 11px, transparent 11px, transparent 21px)',
        }}
      />
      <div style={{ ...textBase, left: l.measuredL, top: l.y - LEGEND_FONT / 2, fontSize: LEGEND_FONT, lineHeight: `${LEGEND_FONT}px` }}>
        measured
      </div>
      <div
        style={{
          position: 'absolute',
          left: l.blueL,
          top: l.y - lineH / 2,
          width: l.blueR - l.blueL,
          height: lineH,
          background: '#0000ff',
        }}
      />
      <div style={{ ...textBase, left: l.estimatedL, top: l.y - LEGEND_FONT / 2, fontSize: LEGEND_FONT, lineHeight: `${LEGEND_FONT}px` }}>
        Estimated
      </div>
    </>
  );
}

export default function App() {
  return (
    <div
      style={{
        position: 'absolute',
        left: 0,
        top: 0,
        width: PAGE_W,
        height: PAGE_H,
        background: '#fff',
        overflow: 'hidden',
      }}
    >
      {FIGURES.map((fig, fi) => (
        <div key={fi}>
          {fig.rows.map((row, ri) => (
            <Panel
              key={ri}
              cfg={{
                measured: row.m,
                estimated: row.e,
                yMin: row.yMin,
                yMax: row.yMax,
                yTicks: row.ticks,
                left: fig.left,
                right: fig.right,
                top: row.top,
                bottom: row.bottom,
                xLabels: ri === 2,
                xPad: fig.xPad,
              }}
            />
          ))}
          {fig.rows.map((row, ri) => (
            <YLabel key={'y' + ri} cx={fig.labelX} cy={(row.top + row.bottom) / 2} name={jointNames[ri]} />
          ))}
          {fig.r2.map((v, ri) => (
            <R2Title key={'t' + ri} left={fig.titleLeft[ri]} cy={fig.titleY[ri]} value={v} />
          ))}
          <Legend l={fig.legend} />
          <div
            style={{
              ...textBase,
              left: (fig.left + fig.right) / 2 - 400,
              width: 800,
              textAlign: 'center',
              top: fig.timeY - LABEL_FONT / 2,
              fontSize: LABEL_FONT,
              lineHeight: `${LABEL_FONT}px`,
            }}
          >
            Time (s)
          </div>
        </div>
      ))}
    </div>
  );
}
